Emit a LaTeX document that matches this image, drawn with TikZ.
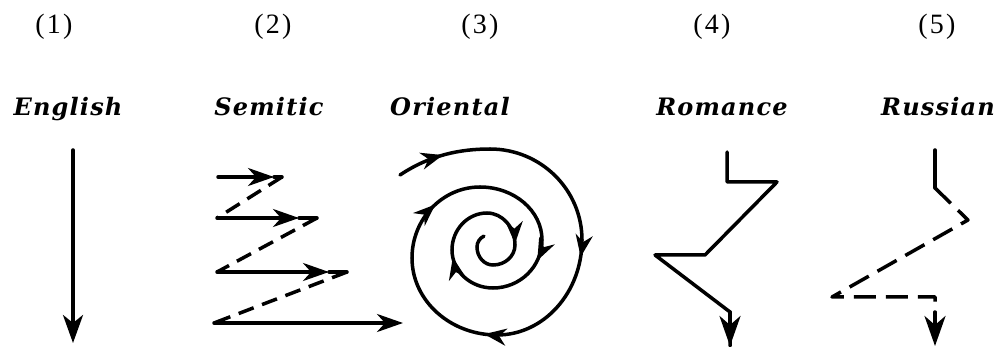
\documentclass[tikz,border=0pt]{standalone}
\usepackage{fontspec}
\setmainfont{Liberation Serif}
\newfontfamily\langfont[LetterSpace=5]{DejaVu Serif}
\newfontfamily\numfont[LetterSpace=8]{Liberation Serif}
\usetikzlibrary{arrows.meta,decorations.markings}
\tikzset{
  ln/.style={line width=3.5pt, line cap=round, line join=round},
  dsh/.style={ln, line cap=butt, dash pattern=on 16pt off 9pt},
  bigtip/.style={-{Stealth[length=28pt,width=20pt,inset=8pt]}},
  semtip/.style={-{Stealth[length=26pt,width=18pt,inset=8pt]}},
  vtip/.style={-{Stealth[length=30pt,width=21pt,inset=9pt]}},
  num/.style={font=\numfont\fontsize{28}{30}\selectfont, anchor=base},
  lang/.style={font=\langfont\bfseries\itshape\fontsize{24}{26}\selectfont, anchor=base},
  sparrow/.style={postaction={decorate}, decoration={markings,
     mark=at position #1 with {\arrow{Stealth[length=22pt,width=17pt,inset=7pt]}}}}
}
\begin{document}
\begin{tikzpicture}[x=1pt,y=-1pt]
\useasboundingbox (0,0) rectangle (1004,347);
% headings
\node[num] (n1) at (54,34) {(1)};
\node[num] (n2) at (273,34) {(2)};
\node[num] (n3) at (480,34) {(3)};
\node[num] (n4) at (712,34) {(4)};
\node[num] (n5) at (937,34) {(5)};
\node[lang] (l1) at (68,116) {English};
\node[lang] (l2) at (269,116) {Semitic};
\node[lang] (l3) at (450,116) {Oriental};
\node[lang] (l4) at (722,116) {Romance};
\node[lang] (l5) at (938,116) {Russian};
% (1) English
\coordinate (e0) at (73,150);
\coordinate (e1) at (73,343);
\draw[ln,bigtip] (e0) -- (e1);
% (2) Semitic
\coordinate (a0) at (218,177); \coordinate (am) at (274,177); \coordinate (a1) at (282,177);
\coordinate (b0) at (217,218); \coordinate (bm) at (299,218); \coordinate (b1) at (317,218);
\coordinate (c0) at (217,272); \coordinate (cm) at (329,272); \coordinate (c1) at (347,272);
\coordinate (d0) at (214,323); \coordinate (d1) at (403,323);
\draw[ln,semtip] (a0) -- (am); \draw[ln] (am) -- (a1);
\draw[ln,semtip] (b0) -- (bm); \draw[ln] (bm) -- (b1);
\draw[ln,semtip] (c0) -- (cm); \draw[ln] (cm) -- (c1);
\draw[ln,semtip] (d0) -- (d1);
\draw[dsh] (a1) -- (b0);
\draw[dsh] (b1) -- (c0);
\draw[dsh] (c1) -- (d0);
% (3) Oriental spiral
\coordinate (s0) at (400,175);
\coordinate (s1) at (490,149);
\draw[ln,sparrow=0.5] (s0) .. controls (430,155) and (460,149) .. (s1);
\draw[ln] (s1) arc[start angle=270,end angle=360,x radius=92,y radius=91] coordinate (s2);
\draw[ln,sparrow=0.12] (s2) arc[start angle=0,end angle=90,x radius=85,y radius=95] coordinate (s3);
\draw[ln,sparrow=0.1] (s3) arc[start angle=90,end angle=180,x radius=85,y radius=77] coordinate (s4);
\draw[ln,sparrow=0.55] (s4) arc[start angle=180,end angle=270,x radius=68,y radius=71] coordinate (s5);
\draw[ln] (s5) arc[start angle=270,end angle=360,x radius=62,y radius=53] coordinate (s6);
\draw[ln,sparrow=0.28] (s6) arc[start angle=0,end angle=90,x radius=49,y radius=48] coordinate (s7);
\draw[ln,sparrow=0.88] (s7) arc[start angle=90,end angle=180,x radius=41,y radius=38] coordinate (s8);
\draw[ln] (s8) arc[start angle=180,end angle=270,x radius=35,y radius=37] coordinate (s9);
\draw[ln,sparrow=0.97] (s9) arc[start angle=270,end angle=360,x radius=28,y radius=32] coordinate (s10);
\draw[ln] (s10) arc[start angle=0,end angle=90,x radius=22,y radius=20] coordinate (s11);
\draw[ln] (s11) arc[start angle=90,end angle=180,x radius=16,y radius=18] coordinate (s12);
\draw[ln] (s12) arc[start angle=180,end angle=245,x radius=12,y radius=12] coordinate (s13);
% (4) Romance
\coordinate (r0) at (727,152); \coordinate (r1) at (727,182);
\coordinate (r2) at (777,182); \coordinate (r3) at (705,255);
\coordinate (r4) at (655,255); \coordinate (r5) at (730,312);
\coordinate (r6) at (730,346);
\draw[ln] (r0) -- (r1) -- (r2) -- (r3) -- (r4) -- (r5) -- (r6);
\draw[ln,vtip] (r5) -- (r6);
% (5) Russian
\coordinate (u0) at (935,150); \coordinate (u1) at (935,188);
\coordinate (u2) at (968,220); \coordinate (u3) at (832,297);
\coordinate (u4) at (935,297); \coordinate (u5) at (935,346);
\coordinate (u45) at (935,312);
\draw[ln] (u0) -- (u1);
\draw[ln, dash pattern=on 22pt off 10pt, line cap=butt] (u1) -- (u2) -- (u3) -- (u4) -- (u45);
\draw[ln,vtip] (u45) -- (u5);
\end{tikzpicture}
\end{document}
